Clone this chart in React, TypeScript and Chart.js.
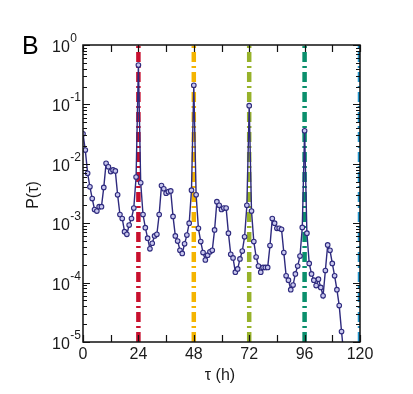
import React, { useEffect, useRef } from "react";
import { Chart, registerables } from "chart.js";

Chart.register(...registerables);

const hours = [
  0, 1, 2, 3, 4, 5, 6, 7, 8, 9, 10, 11, 12, 13, 14, 15, 16, 17, 18, 19, 20, 21, 22, 23,
  24, 25, 26, 27, 28, 29, 30, 31, 32, 33, 34, 35, 36, 37, 38, 39, 40, 41, 42, 43, 44, 45, 46, 47,
  48, 49, 50, 51, 52, 53, 54, 55, 56, 57, 58, 59, 60, 61, 62, 63, 64, 65, 66, 67, 68, 69, 70, 71,
  72, 73, 74, 75, 76, 77, 78, 79, 80, 81, 82, 83, 84, 85, 86, 87, 88, 89, 90, 91, 92, 93, 94, 95,
  96, 97, 98, 99, 100, 101, 102, 103, 104, 105, 106, 107, 108, 109, 110, 111, 112, 113,
];

const probability = [
  0.032, 0.017, 0.0069, 0.0041, 0.0026, 0.0017, 0.0016, 0.0019, 0.0019, 0.004, 0.0102, 0.0089,
  0.0074, 0.0079, 0.0076, 0.003, 0.0014, 0.0012, 0.00072, 0.00065, 0.00093, 0.0012, 0.0018, 0.006,
  0.46, 0.0048, 0.0014, 0.00084, 0.00056, 0.00037, 0.00046, 0.00061, 0.00065, 0.0014, 0.0043, 0.0038,
  0.0032, 0.0034, 0.0035, 0.0013, 0.00061, 0.0005, 0.00035, 0.00031, 0.00045, 0.00063, 0.001, 0.0036,
  0.21, 0.003, 0.00082, 0.00049, 0.00032, 0.00024, 0.00029, 0.00033, 0.00035, 0.00077, 0.0023, 0.002,
  0.0017, 0.0018, 0.0018, 0.00068, 0.0003, 0.00026, 0.00015, 0.00017, 0.00025, 0.00034, 0.00059, 0.002,
  0.095, 0.0016, 0.00049, 0.00027, 0.00019, 0.00015, 0.00018, 0.00018, 0.00018, 0.00042, 0.0012, 0.001,
  0.00082, 0.00082, 0.00079, 0.00032, 0.00013, 0.00011, 0.000076, 0.000091, 0.00014, 0.00019, 0.00028, 0.00085,
  0.036, 0.00068, 0.00021, 0.00014, 0.00011, 0.000089, 0.000114, 0.000083, 0.00006, 0.00016, 0.00043, 0.00035,
  0.00021, 0.00013, 0.000076, 0.000041, 0.000015, 0.000006,
];

const periodHours = [24, 48, 72, 96, 120];
const periodColors = ["#C8102E", "#F4B400", "#97B22A", "#0A8F6C", "#1F95CC"];

const xTickValues = [0, 12, 24, 36, 48, 60, 72, 84, 96, 108, 120];
const xTickLabels = ["0", "", "24", "", "48", "", "72", "", "96", "", "120"];
const yDecadeExponents = [0, -1, -2, -3, -4, -5];

const panelLabel = "B";
const xTitle = "τ (h)";
const yTitle = "P(τ)";

const FONT = "'Liberation Sans', Arial, sans-serif";

const framePlugin = {
  id: "framePlugin",
  afterDraw(chart: any) {
    const ctx = chart.ctx;
    const { left, right, top, bottom } = chart.chartArea;
    const xs = chart.scales.x;
    const ys = chart.scales.y;
    ctx.save();
    ctx.strokeStyle = "#111";
    ctx.lineWidth = 1.5;
    ctx.strokeRect(left, top, right - left, bottom - top);

    ctx.lineWidth = 1.2;
    xTickValues.forEach((v) => {
      const px = Math.round(xs.getPixelForValue(v)) + 0.5;
      ctx.beginPath();
      ctx.moveTo(px, bottom);
      ctx.lineTo(px, bottom - 7);
      ctx.moveTo(px, top);
      ctx.lineTo(px, top + 7);
      ctx.stroke();
    });
    yDecadeExponents.forEach((e) => {
      const py = Math.round(ys.getPixelForValue(Math.pow(10, e))) + 0.5;
      ctx.beginPath();
      ctx.moveTo(left, py);
      ctx.lineTo(left + 7, py);
      ctx.moveTo(right, py);
      ctx.lineTo(right - 7, py);
      ctx.stroke();
      if (e > -5) {
        for (let m = 2; m <= 9; m++) {
          const pm = Math.round(ys.getPixelForValue(m * Math.pow(10, e - 1))) + 0.5;
          ctx.beginPath();
          ctx.moveTo(left, pm);
          ctx.lineTo(left + 4, pm);
          ctx.moveTo(right, pm);
          ctx.lineTo(right - 4, pm);
          ctx.stroke();
        }
      }
    });

    ctx.fillStyle = "#1a1a1a";
    ctx.font = `16px ${FONT}`;
    ctx.textAlign = "center";
    ctx.textBaseline = "middle";
    xTickValues.forEach((v, i) => {
      if (!xTickLabels[i]) return;
      ctx.fillText(xTickLabels[i], xs.getPixelForValue(v), 355);
    });

    yDecadeExponents.forEach((e) => {
      const py = ys.getPixelForValue(Math.pow(10, e));
      ctx.font = `16px ${FONT}`;
      ctx.textAlign = "left";
      ctx.textBaseline = "middle";
      ctx.fillText("10", 52, py + 2.5);
      const w = ctx.measureText("10").width;
      ctx.font = `12px ${FONT}`;
      ctx.textBaseline = "alphabetic";
      ctx.fillText(String(e), 52 + w + 0.5, py - 3);
    });

    ctx.font = `16px ${FONT}`;
    ctx.textAlign = "center";
    ctx.textBaseline = "middle";
    ctx.fillText(xTitle, 220, 376);
    ctx.save();
    ctx.translate(34, 195);
    ctx.rotate(-Math.PI / 2);
    ctx.fillText(yTitle, 0, 0);
    ctx.restore();

    ctx.font = `25px ${FONT}`;
    ctx.textAlign = "left";
    ctx.textBaseline = "alphabetic";
    ctx.fillStyle = "#000";
    ctx.fillText(panelLabel, 22, 53.5);
    ctx.restore();
  },
};

export default function App() {
  const ref = useRef<HTMLCanvasElement>(null);
  useEffect(() => {
    if (!ref.current) return;
    const periodSets = periodHours.map((h, i) => ({
      type: "line" as const,
      data: [
        { x: h, y: 1e-5 },
        { x: h, y: 1 },
      ],
      borderColor: periodColors[i],
      borderWidth: 4.5,
      borderDash: [10, 4, 2, 4],
      pointRadius: 0,
      clip: 0,
      order: 2,
    }));
    const chart = new Chart(ref.current, {
      type: "line",
      data: {
        datasets: [
          ...periodSets,
          {
            data: hours.map((h, i) => ({ x: h, y: probability[i] })),
            borderColor: "#2E2A7E",
            borderWidth: 1.4,
            pointRadius: 2.3,
            pointBorderWidth: 1.1,
            pointBorderColor: "#2E2A7E",
            pointBackgroundColor: "#C9C8EE",
            clip: 0,
            order: 1,
          } as any,
        ],
      },
      options: {
        responsive: false,
        animation: false,
        devicePixelRatio: 1,
        layout: { padding: { left: 83, right: 53, top: 45, bottom: 52 } },
        scales: {
          x: { type: "linear", min: 0, max: 120, display: false },
          y: { type: "logarithmic", min: 1e-5, max: 1, display: false },
        },
        plugins: { legend: { display: false }, tooltip: { enabled: false } },
      },
      plugins: [framePlugin],
    });
    return () => chart.destroy();
  }, []);
  return (
    <div style={{ position: "absolute", left: 0, top: 0, width: 413, height: 394, background: "#fff" }}>
      <canvas ref={ref} width={413} height={394} style={{ display: "block" }} />
    </div>
  );
}
